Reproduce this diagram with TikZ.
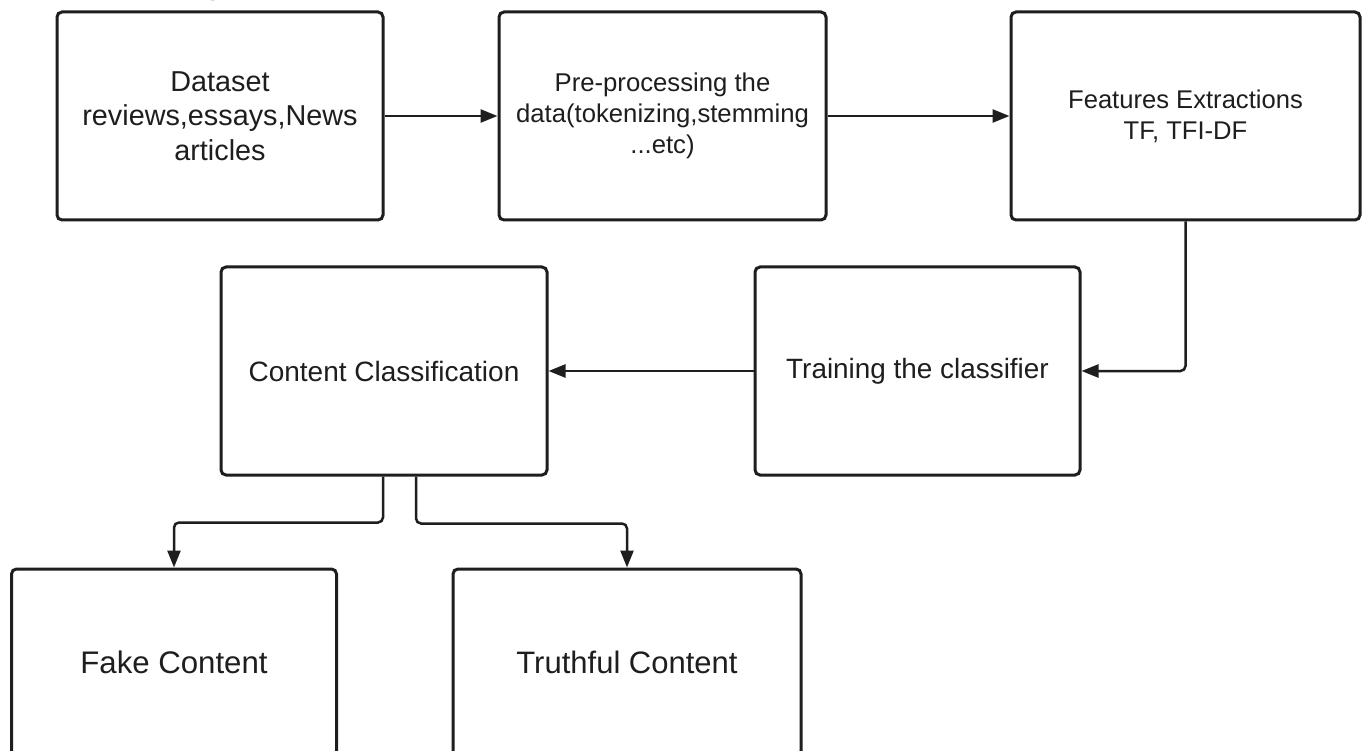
\documentclass[tikz,border=0pt]{standalone}
\usepackage{fontspec}
\setmainfont{Liberation Sans}
\newfontfamily\titlefont{Liberation Serif}
\usetikzlibrary{arrows.meta}
\definecolor{ink}{HTML}{1E1E1E}
\begin{document}
\begin{tikzpicture}[x=1pt,y=-1pt,
 box/.style={draw=ink, line width=3pt, rounded corners=5pt, align=center, text=ink, inner sep=0pt, fill=white},
 conn/.style={draw=ink, line width=2.5pt, rounded corners=5pt, -{Triangle[length=17pt,width=13pt]}},
]
\useasboundingbox (0,0) rectangle (1365,751);
\fill[white] (0,0) rectangle (1365,751);
\node[anchor=base west, font=\titlefont\bfseries\fontsize{28}{30}\selectfont, text=ink, inner sep=0pt] (title) at (164,-5) {Diagram (a)};
\node[box, minimum width=326pt, minimum height=208pt, font=\fontsize{28.8}{34.5}\selectfont] (data) at (220,116) {Dataset\\reviews,essays,News\\articles};
\node[box, minimum width=327pt, minimum height=208pt, font=\fontsize{25.7}{31}\selectfont] (pre) at (662.5,116) {Pre-processing the\\data(tokenizing,stemming\\...etc)};
\node[box, minimum width=349pt, minimum height=208pt, font=\fontsize{25.6}{31}\selectfont] (feat) at (1185.5,116) {Features Extractions\\TF, TFI-DF};
\node[box, minimum width=326pt, minimum height=208pt, font=\fontsize{28}{34}\selectfont] (cls) at (384,371) {Content Classification};
\node[box, minimum width=325pt, minimum height=208pt, font=\fontsize{27.9}{34}\selectfont] (train) at (917.5,371) {Training the classifier};
\node[box, minimum width=325pt, minimum height=187pt, font=\fontsize{31.2}{36}\selectfont] (fake) at (174,662.5) {Fake Content};
\node[box, minimum width=348pt, minimum height=187pt, font=\fontsize{31}{36}\selectfont] (truth) at (627,662.5) {Truthful Content};
\draw[conn] (data) -- (pre);
\draw[conn] (pre) -- (feat);
\draw[conn] (feat.south) |- (train.east);
\draw[conn] (train) -- (cls);
\draw[conn] ([xshift=-1pt]cls.south) -- ++(0,46) -| (fake.north);
\draw[conn] ([xshift=32pt]cls.south) -- ++(0,47) -| (truth.north);
\end{tikzpicture}
\end{document}
